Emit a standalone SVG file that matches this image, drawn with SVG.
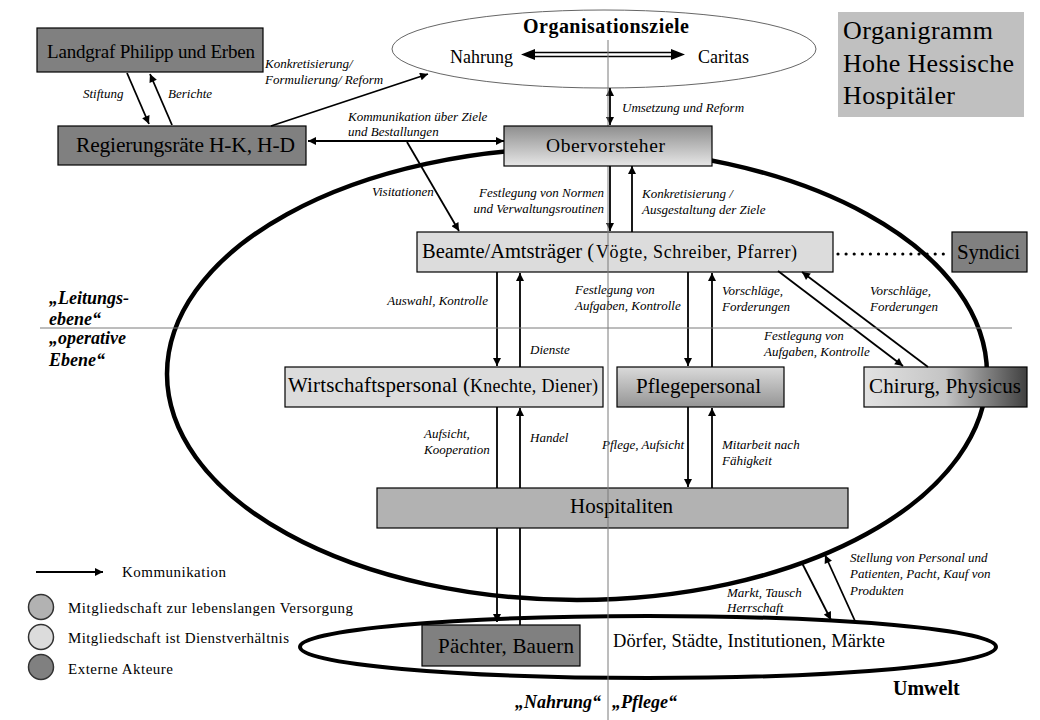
<svg xmlns="http://www.w3.org/2000/svg" width="1040" height="720" viewBox="0 0 1040 720">
<defs>
<style>
.t{font-family:'Liberation Serif','DejaVu Serif','Noto Serif',serif;fill:#000}
.lbl{font-family:'Liberation Serif','DejaVu Serif','Noto Serif',serif;font-style:italic;font-size:13px;fill:#000}
.bi{font-family:'Liberation Serif','DejaVu Serif','Noto Serif',serif;font-style:italic;font-weight:bold;font-size:18px;fill:#000}
.box{stroke:#000;stroke-width:1.2}
.dark{fill:#808080}
.light{fill:#dcdcdc}
.mid{fill:#b2b2b2}
.c{stroke:#000;stroke-width:1.8;fill:none}
.guide{stroke:#7a7a7a;stroke-width:1;fill:none}
</style>
<marker id="ah" viewBox="0 0 10 10" refX="10" refY="5" markerWidth="9" markerHeight="8" markerUnits="userSpaceOnUse" orient="auto-start-reverse">
<path d="M0,0 L10,5 L0,10 z" fill="#000"/>
</marker>
<linearGradient id="gOber" x1="0" y1="0" x2="0" y2="1">
<stop offset="0" stop-color="#8e8e8e"/><stop offset="1" stop-color="#e6e6e6"/>
</linearGradient>
<linearGradient id="gPflege" x1="0" y1="0" x2="0" y2="1">
<stop offset="0" stop-color="#dadada"/><stop offset="1" stop-color="#959595"/>
</linearGradient>
<linearGradient id="gChir" x1="0" y1="0" x2="1" y2="0">
<stop offset="0" stop-color="#e2e2e2"/><stop offset="0.5" stop-color="#c4c4c4"/><stop offset="1" stop-color="#404040"/>
</linearGradient>
</defs>
<rect width="1040" height="720" fill="#fff"/>

<g id="hospital-frame">
<ellipse cx="577" cy="374" rx="410" ry="226" fill="none" stroke="#000" stroke-width="4.5"/>
</g>
<g id="umwelt">
<ellipse cx="648" cy="647" rx="348" ry="31" fill="none" stroke="#000" stroke-width="4"/>
<text class="t" x="613" y="647" font-size="18.5" textLength="272">Dörfer, Städte, Institutionen, Märkte</text>
<text class="t" x="893" y="695" font-size="20" font-weight="bold">Umwelt</text>
</g>
<g id="organisationsziele">
<ellipse cx="604" cy="49" rx="212" ry="39" fill="#fff" stroke="#666" stroke-width="1"/>
<text class="t" x="523" y="33" font-size="20" font-weight="bold" textLength="166">Organisationsziele</text>
<text class="t" x="450" y="63" font-size="18">Nahrung</text>
<text class="t" x="698" y="63" font-size="18">Caritas</text>
<path d="M533,52.5 H673 M533,56.5 H673" stroke="#000" stroke-width="1.3" fill="none"/>
<path d="M521,54.5 L535,49 L535,60 Z M685,54.5 L671,49 L671,60 Z" fill="#000"/>
</g>
<g id="title">
<rect x="838" y="12" width="186" height="105" fill="#c0c0c0"/>
<text class="t" x="843" y="39" font-size="26" textLength="150">Organigramm</text>
<text class="t" x="843" y="72" font-size="26" textLength="171">Hohe Hessische</text>
<text class="t" x="843" y="104" font-size="26" textLength="112">Hospitäler</text>
</g>
<g id="landgraf">
<rect class="box dark" x="37" y="28" width="226" height="44"/>
<text class="t" x="47" y="58" font-size="19" textLength="208">Landgraf Philipp und Erben</text>
</g>
<g id="regierungsraete">
<rect class="box dark" x="58" y="126" width="248" height="39"/>
<text class="t" x="76" y="152" font-size="21.5" textLength="219">Regierungsräte H-K, H-D</text>
</g>
<g id="beamte">
<rect class="box light" x="417" y="232" width="416" height="40"/>
<text class="t" x="422" y="258" font-size="20.5" textLength="172">Beamte/Amtsträger (</text>
<text class="t" x="596" y="258" font-size="18" textLength="201">Vögte, Schreiber, Pfarrer)</text>
</g>
<g id="syndici">
<rect class="box dark" x="952" y="232" width="75" height="40"/>
<text class="t" x="957" y="259" font-size="21" textLength="63">Syndici</text>
</g>
<g id="wirtschaftspersonal">
<rect class="box light" x="285" y="367" width="318" height="40"/>
<text class="t" x="288" y="392" font-size="21" textLength="182">Wirtschaftspersonal (</text>
<text class="t" x="470" y="392" font-size="18" textLength="128">Knechte, Diener)</text>
</g>
<g id="pflegepersonal">
<rect class="box" x="617" y="367" width="167" height="40" fill="url(#gPflege)"/>
<text class="t" x="636" y="393" font-size="21" textLength="125">Pflegepersonal</text>
</g>
<g id="chirurg">
<rect class="box" x="864" y="367" width="163" height="40" fill="url(#gChir)"/>
<text class="t" x="869" y="393" font-size="21" textLength="152">Chirurg, Physicus</text>
</g>
<g id="hospitaliten">
<rect class="box mid" x="377" y="488" width="471" height="40"/>
<text class="t" x="570" y="513" font-size="21" textLength="103">Hospitaliten</text>
</g>
<g id="paechter">
<rect class="box dark" x="422" y="625" width="158" height="41"/>
<text class="t" x="438" y="653" font-size="21" textLength="136">Pächter, Bauern</text>
</g>

<g id="connectors">
<line class="c" x1="127" y1="73" x2="149" y2="124" marker-end="url(#ah)"/>
<line class="c" x1="172" y1="125" x2="150" y2="74" marker-end="url(#ah)"/>
<line class="c" x1="271" y1="126" x2="428" y2="74" marker-end="url(#ah)"/>
<line class="c" x1="308" y1="141" x2="504" y2="141" marker-start="url(#ah)" marker-end="url(#ah)"/>
<line class="c" x1="407" y1="142" x2="459" y2="231" marker-end="url(#ah)"/>
<line class="c" x1="610" y1="88" x2="610" y2="125" marker-start="url(#ah)" marker-end="url(#ah)"/>
<line class="c" x1="610" y1="166" x2="610" y2="231" marker-end="url(#ah)"/>
<line class="c" x1="632" y1="232" x2="632" y2="166" marker-end="url(#ah)"/>
<line class="c" x1="497" y1="272" x2="497" y2="366" marker-end="url(#ah)"/>
<line class="c" x1="520" y1="367" x2="520" y2="273" marker-end="url(#ah)"/>
<line class="c" x1="688" y1="272" x2="688" y2="366" marker-end="url(#ah)"/>
<line class="c" x1="712" y1="367" x2="712" y2="273" marker-end="url(#ah)"/>
<line class="c" x1="778" y1="271" x2="903" y2="366" marker-end="url(#ah)"/>
<line class="c" x1="928" y1="367" x2="802" y2="272" marker-end="url(#ah)"/>
<line class="c" x1="497" y1="407" x2="497" y2="488"/>
<line class="c" x1="520" y1="488" x2="520" y2="408" marker-end="url(#ah)"/>
<line class="c" x1="497" y1="528" x2="497" y2="622" marker-end="url(#ah)"/>
<line class="c" x1="520" y1="528" x2="520" y2="625"/>
<line class="c" x1="688" y1="407" x2="688" y2="487" marker-end="url(#ah)"/>
<line class="c" x1="712" y1="488" x2="712" y2="408" marker-end="url(#ah)"/>
<line class="c" x1="802" y1="563" x2="831" y2="620" marker-end="url(#ah)"/>
<line class="c" x1="855" y1="621" x2="825" y2="555" marker-end="url(#ah)"/>
<line x1="838" y1="254" x2="950" y2="254" stroke="#000" stroke-width="3.2" stroke-linecap="round" stroke-dasharray="0 8.1"/>
</g>

<g id="connector-labels">
<text class="lbl" x="265" y="68">Konkretisierung/</text>
<text class="lbl" x="265" y="84">Formulierung/ Reform</text>
<text class="lbl" x="83" y="98">Stiftung</text>
<text class="lbl" x="168" y="98">Berichte</text>
<text class="lbl" x="348" y="121">Kommunikation über Ziele</text>
<text class="lbl" x="348" y="136">und Bestallungen</text>
<text class="lbl" x="622" y="112">Umsetzung und Reform</text>
<text class="lbl" x="372" y="196">Visitationen</text>
<text class="lbl" x="604" y="197" text-anchor="end">Festlegung von Normen</text>
<text class="lbl" x="604" y="213" text-anchor="end">und Verwaltungsroutinen</text>
<text class="lbl" x="642" y="198">Konkretisierung /</text>
<text class="lbl" x="642" y="214">Ausgestaltung der Ziele</text>
<text class="lbl" x="488" y="305" text-anchor="end">Auswahl, Kontrolle</text>
<text class="lbl" x="530" y="354">Dienste</text>
<text class="lbl" x="575" y="294">Festlegung von</text>
<text class="lbl" x="575" y="310">Aufgaben, Kontrolle</text>
<text class="lbl" x="722" y="295">Vorschläge,</text>
<text class="lbl" x="722" y="311">Forderungen</text>
<text class="lbl" x="764" y="340">Festlegung von</text>
<text class="lbl" x="764" y="356">Aufgaben, Kontrolle</text>
<text class="lbl" x="870" y="295">Vorschläge,</text>
<text class="lbl" x="870" y="311">Forderungen</text>
<text class="lbl" x="424" y="438">Aufsicht,</text>
<text class="lbl" x="424" y="454">Kooperation</text>
<text class="lbl" x="530" y="442">Handel</text>
<text class="lbl" x="602" y="449">Pflege, Aufsicht</text>
<text class="lbl" x="722" y="449">Mitarbeit nach</text>
<text class="lbl" x="722" y="465">Fähigkeit</text>
<text class="lbl" x="727" y="597">Markt, Tausch</text>
<text class="lbl" x="727" y="612">Herrschaft</text>
<text class="lbl" x="850" y="562">Stellung von Personal und</text>
<text class="lbl" x="850" y="578">Patienten, Pacht, Kauf von</text>
<text class="lbl" x="850" y="595">Produkten</text>
</g>

<g id="level-labels">
<text class="bi" x="49" y="304">„Leitungs-</text>
<text class="bi" x="49" y="325">ebene“</text>
<text class="bi" x="49" y="344">„operative</text>
<text class="bi" x="49" y="366">Ebene“</text>
<text class="bi" x="515" y="708">„Nahrung“</text>
<text class="bi" x="612" y="708">„Pflege“</text>
</g>

<g id="guides">
<line class="guide" x1="608" y1="40" x2="608" y2="720"/>
<line class="guide" x1="40" y1="328" x2="1012" y2="328"/>
</g>

<g id="obervorsteher">
<rect class="box" x="504" y="126" width="208" height="40" fill="url(#gOber)"/>
<text class="t" x="546" y="152" font-size="19.5" textLength="119">Obervorsteher</text>
</g>

<g id="legend">
<line class="c" x1="36" y1="572" x2="103" y2="572" marker-end="url(#ah)"/>
<text class="t" x="122" y="577" font-size="15" textLength="104">Kommunikation</text>
<circle cx="41" cy="607" r="12.5" fill="#b2b2b2" stroke="#333" stroke-width="1.5"/>
<text class="t" x="68" y="613" font-size="15" textLength="285">Mitgliedschaft zur lebenslangen Versorgung</text>
<circle cx="41" cy="637" r="12.5" fill="#dcdcdc" stroke="#333" stroke-width="1.5"/>
<text class="t" x="68" y="643" font-size="15" textLength="221">Mitgliedschaft ist Dienstverhältnis</text>
<circle cx="41" cy="667" r="12.5" fill="#808080" stroke="#333" stroke-width="1.5"/>
<text class="t" x="68" y="674" font-size="15" textLength="105">Externe Akteure</text>
</g>
</svg>
